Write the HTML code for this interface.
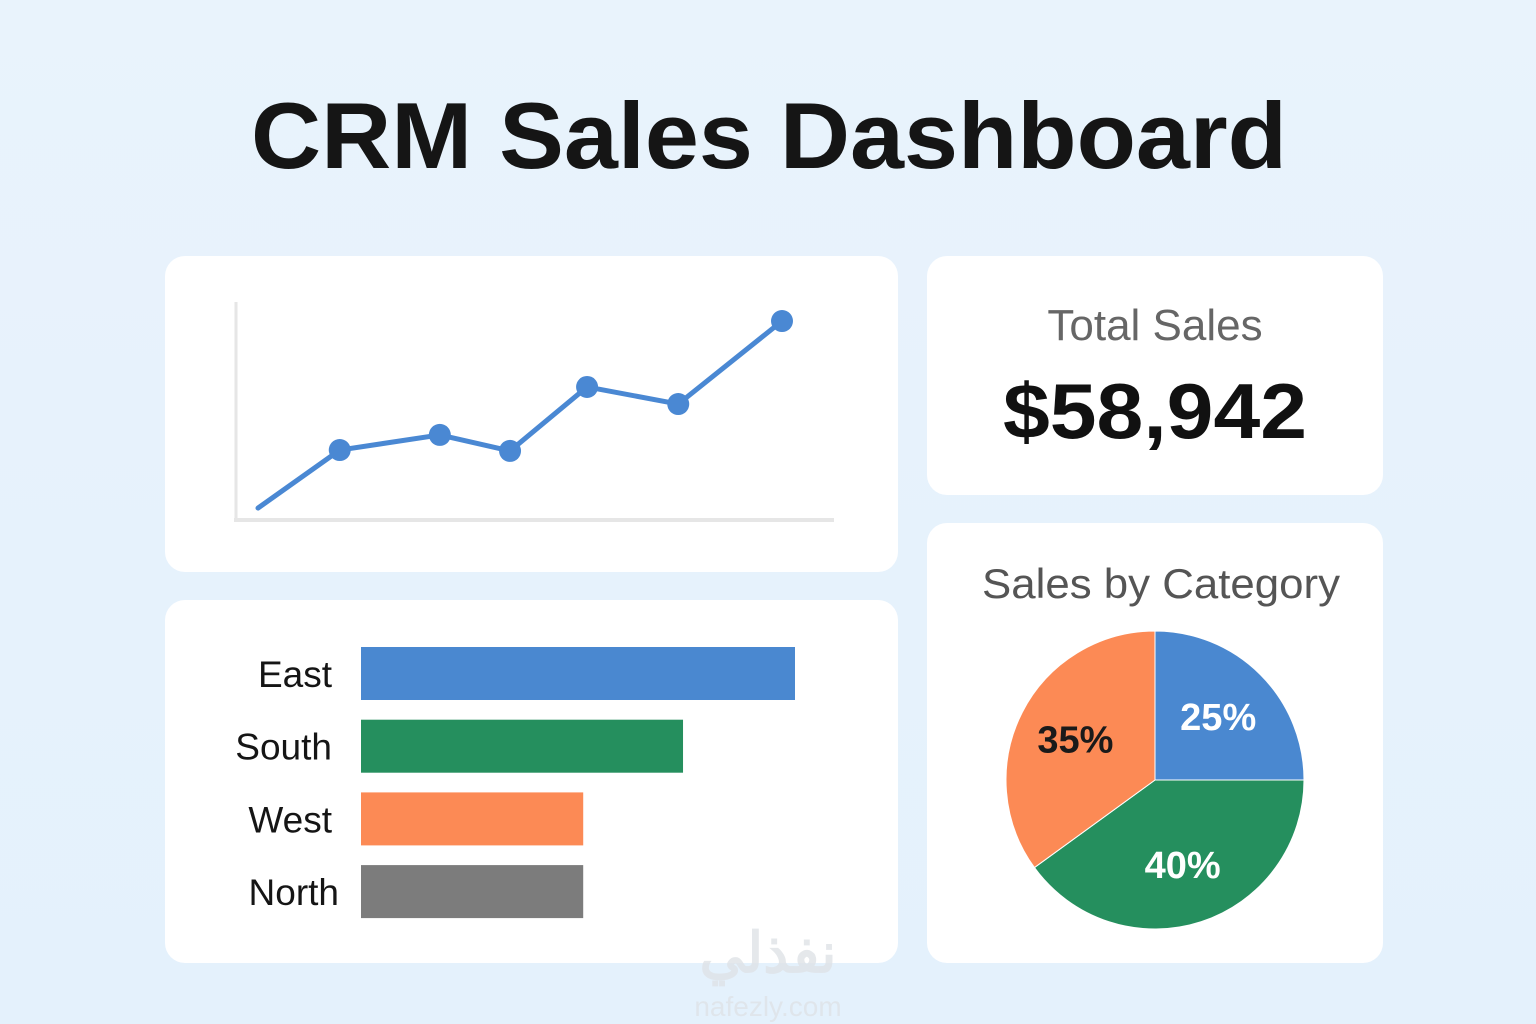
<!DOCTYPE html>
<html><head><meta charset="utf-8"><style>
html,body{margin:0;padding:0;width:1536px;height:1024px;overflow:hidden;background:#e8f3fc}
text{font-family:"Liberation Sans","Noto Sans CJK SC",sans-serif}
</style></head><body>
<svg id="dash" width="1536" height="1024" viewBox="0 0 1536 1024" xmlns="http://www.w3.org/2000/svg">
<defs><linearGradient id="bg" x1="0" y1="0" x2="0" y2="1"><stop offset="0" stop-color="#e9f3fc"/><stop offset="1" stop-color="#e4f1fc"/></linearGradient></defs>
<rect width="1536" height="1024" fill="url(#bg)"/>
<text x="769" y="168" text-anchor="middle" font-size="94" font-weight="bold" fill="#151515" textLength="1036" lengthAdjust="spacingAndGlyphs">CRM Sales Dashboard</text>
<rect x="165" y="256" width="733" height="316" rx="20" fill="#fff"/>
<rect x="927" y="256" width="456" height="239" rx="20" fill="#fff"/>
<rect x="165" y="600" width="733" height="363" rx="20" fill="#fff"/>
<rect x="927" y="523" width="456" height="440" rx="20" fill="#fff"/>
<line x1="236" y1="302" x2="236" y2="521" stroke="#e6e6e6" stroke-width="3"/>
<line x1="234" y1="520" x2="834" y2="520" stroke="#e6e6e6" stroke-width="4"/>
<g id="line-g"></g>
<text x="1155" y="340" text-anchor="middle" font-size="44" fill="#666">Total Sales</text>
<text x="1155" y="438" text-anchor="middle" font-size="78" font-weight="bold" fill="#111" textLength="304" lengthAdjust="spacingAndGlyphs">$58,942</text>
<g id="bar-g"></g>
<text x="1161" y="598" text-anchor="middle" font-size="42" fill="#555" textLength="358" lengthAdjust="spacingAndGlyphs">Sales by Category</text>
<g id="pie-g"></g>
<text x="768" y="972" text-anchor="middle" font-size="56" font-weight="bold" fill="#dfe3e7" opacity="0.8">نفذلي</text>
<text x="768" y="1016" text-anchor="middle" font-size="28" fill="#dfe3e7" opacity="0.8">nafezly.com</text>
</svg>
<script>
const NS="http://www.w3.org/2000/svg";
// line chart data
const lineX=[0,1.56,3.47,4.81,6.28,8.02,10];
const lineY=[5.9,32.4,39.3,32,61.2,53.4,91.3];
const lineMarkers=[false,true,true,true,true,true,true];
// bar chart data
const regions=["East","South","West","North"];
const regionSales=[100,74.2,51.2,51.2];
const regionColors=["#4a88d0","#258f5e","#fc8a55","#7c7c7c"];
// pie data
const categoryLabels=["25%","40%","35%"];
const categoryValues=[25,40,35];
const categoryColors=["#4a88d0","#258f5e","#fc8a55"];
const categoryTextColors=["#fff","#fff","#1a1a1a"];

function mk(tag,attrs,parent){const e=document.createElementNS(NS,tag);for(const k in attrs)e.setAttribute(k,attrs[k]);parent.appendChild(e);return e;}
const sx=v=>258+v*52.4, sy=v=>521-v*2.19;
const lg=document.getElementById('line-g');
const pl=mk('polyline',{points:lineX.map((x,i)=>sx(x)+','+sy(lineY[i])).join(' '),fill:'none',stroke:'#4a88d3','stroke-width':5,'stroke-linejoin':'round','stroke-linecap':'round'},lg);


lineX.forEach((x,i)=>{if(!lineMarkers[i])return;const c=mk('circle',{cx:sx(x),cy:sy(lineY[i]),r:11,fill:'#4a88d3'},lg);

});

const bx=v=>v*4.34, bg=document.getElementById('bar-g');
regions.forEach((r,i)=>{const y=647+i*72.7;
const b=mk('rect',{x:361,y:y,width:bx(regionSales[i]),height:53,fill:regionColors[i]},bg);


const t=mk('text',{x:i==3?339:332,y:y+40,'text-anchor':'end','font-size':37,fill:'#151515'},bg);t.textContent=r;

});

const pg=document.getElementById('pie-g'),cx=1155,cy=780,R=149;
const tot=categoryValues.reduce((a,b)=>a+b,0);let a0=-Math.PI/2;
categoryValues.forEach((v,i)=>{const a1=a0+v/tot*2*Math.PI;
const p=mk('path',{d:`M${cx},${cy}L${cx+R*Math.cos(a0)},${cy+R*Math.sin(a0)}A${R},${R} 0 ${a1-a0>Math.PI?1:0} 1 ${cx+R*Math.cos(a1)},${cy+R*Math.sin(a1)}Z`,fill:categoryColors[i],stroke:'#fff','stroke-width':1},pg);


const m=(a0+a1)/2,lr=R*0.6;
const t=mk('text',{x:cx+lr*Math.cos(m),y:cy+lr*Math.sin(m)+13,'text-anchor':'middle','font-size':38,'font-weight':'bold',fill:categoryTextColors[i]},pg);t.textContent=categoryLabels[i];


a0=a1;});
</script>
</body></html>
